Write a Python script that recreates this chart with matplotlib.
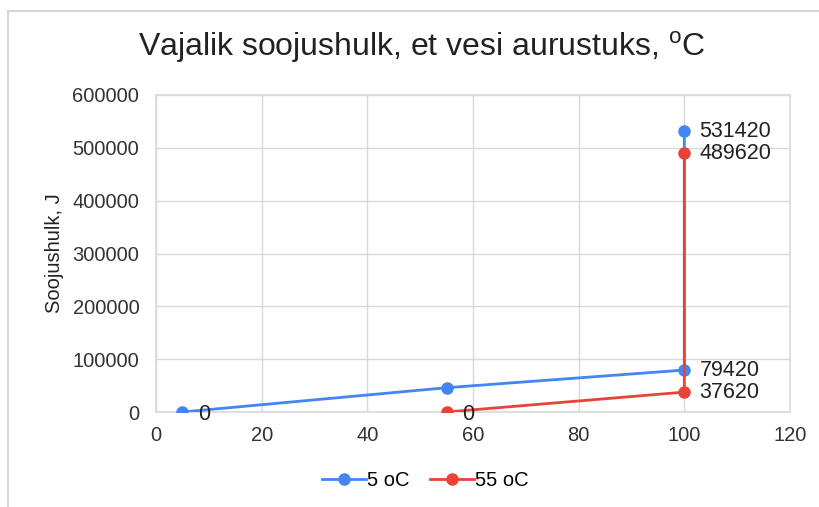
import matplotlib
matplotlib.use("Agg")
import matplotlib.pyplot as plt
from matplotlib.patches import Rectangle

plt.rcParams['font.family'] = ['Liberation Sans', 'DejaVu Sans']

title = "Vajalik soojushulk, et vesi aurustuks, $^{\\mathregular{o}}$C"
ylabel = "Soojushulk, J"

x_5 = [5, 55, 100, 100]
y_5 = [0, 46000, 79420, 531420]
labels_5 = ["0", None, "79420", "531420"]

x_55 = [55, 100, 100]
y_55 = [0, 37620, 489620]
labels_55 = ["0", "37620", "489620"]

series_names = ["5 oC", "55 oC"]
colors = ["#4285F4", "#EA4335"]

xticks = [0, 20, 40, 60, 80, 100, 120]
yticks = [0, 100000, 200000, 300000, 400000, 500000, 600000]

fig = plt.figure(figsize=(8.19, 5.07), dpi=100)
fig.patches.append(Rectangle((8/819, -0.1), 1.2, 1 - 11/507 + 0.1, transform=fig.transFigure,
                             fill=False, edgecolor="#d6d6d6", linewidth=1.5))
ax = fig.add_axes([156/819, 1 - 412/507, (790 - 156)/819, (412 - 95)/507])

for xs, ys, labs, name, c in [(x_5, y_5, labels_5, series_names[0], colors[0]),
                               (x_55, y_55, labels_55, series_names[1], colors[1])]:
    ax.plot(xs, ys, color=c, linewidth=2, marker="o", markersize=8, label=name, zorder=3)
    for xv, yv, lab in zip(xs, ys, labs):
        if lab is None:
            continue
        ax.annotate(lab, (xv, yv), xytext=(11, -2 if yv == 0 else 0), textcoords="offset points",
                    ha="left", va="center", fontsize=15.5, color="#222222", zorder=4)

ax.set_xlim(0, 120)
ax.set_ylim(0, 600000)
ax.set_xticks(xticks)
ax.set_yticks(yticks)
ax.set_xticklabels([str(v) for v in xticks], fontsize=14.5, color="#333333")
ax.set_yticklabels([str(v) for v in yticks], fontsize=14.5, color="#333333")
ax.tick_params(length=0, pad=12)
ax.tick_params(axis='x', pad=10)
ax.grid(True, color="#d9d9d9", linewidth=1)
ax.set_axisbelow(True)
for s in ax.spines.values():
    s.set_color("#d9d9d9")
    s.set_linewidth(1.2)

ax.set_ylabel(ylabel, fontsize=14.5, color="#222222", labelpad=6)
fig.text(422/819, 1 - 47/507, title, ha="center", va="center", fontsize=23, color="#222222")

leg = fig.legend(loc="center", bbox_to_anchor=(425/819, 1 - 481/507), ncol=2, frameon=False,
                 fontsize=14.5, handlelength=2.2, columnspacing=1.0, handletextpad=0.05)

fig.savefig("out.png", dpi=100)
